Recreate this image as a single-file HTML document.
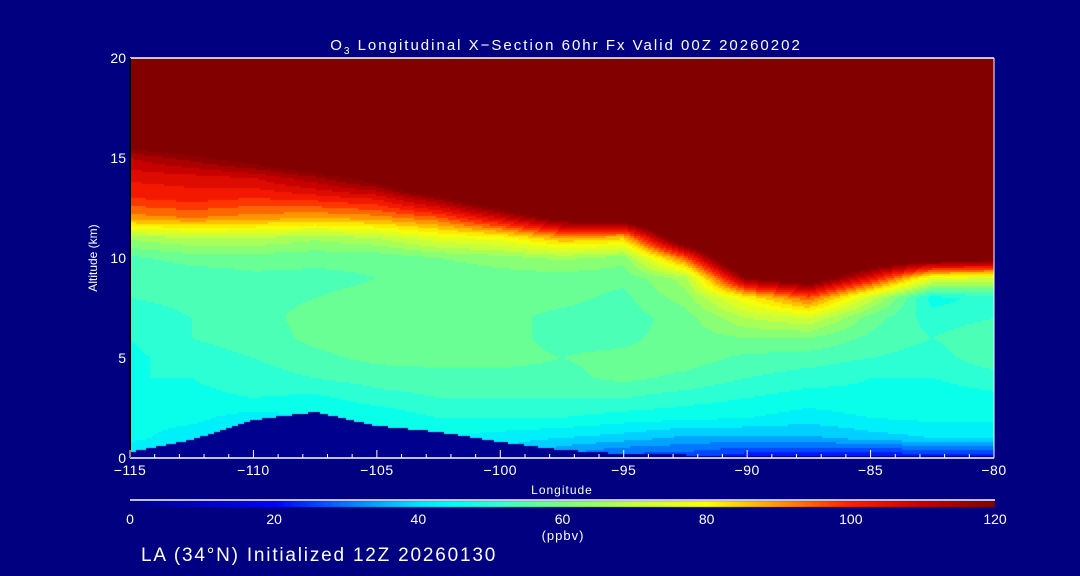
<!DOCTYPE html>
<html><head><meta charset="utf-8">
<style>
html,body{margin:0;padding:0;background:#000080;}
#wrap{position:relative;width:1080px;height:576px;background:#000080;overflow:hidden;font-family:"Liberation Sans",sans-serif;color:#fff;}
canvas{position:absolute;left:0;top:0;}
svg{position:absolute;left:0;top:0;}
</style></head>
<body>
<div id="wrap">
<canvas id="cv" width="1080" height="576"></canvas>
<svg id="ax" width="1080" height="576"></svg>
</div>
<script>
// ---- data ----
const lons = [-115,-112.5,-110,-107.5,-105,-102.5,-100,-97.5,-95,-92.5,-90,-87.5,-85,-82.5,-80];
const alts = [0,1,2,3,4,5,6,7,8,9,10,11,12,13,14,15,16,17,18,19,20];
const terrain = [0.3,0.9,1.9,2.3,1.6,1.3,0.8,0.4,0.2,0.15,0.15,0.15,0.15,0.15,0.15];
// ozone (ppbv) rows = altitude, cols = longitude
const ozone = [
[40,38,38,40,40,40,38,30,25,25,20,20,18,20,20],
[45,42,40,42,42,44,42,40,38,35,35,35,38,40,40],
[45,45,42,44,45,48,48,48,46,45,44,42,44,45,45],
[48,47,48,47,50,52,52,52,52,50,48,46,47,46,47],
[48,48,50,52,54,55,55,55,57,55,52,50,48,48,50],
[47,50,52,55,57,57,57,56,57,58,55,54,52,50,55],
[48,52,54,57,58,58,57,55,55,58,60,60,55,52,55],
[50,52,55,57,58,58,57,55,54,58,68,72,58,50,52],
[52,53,55,56,57,58,57,57,55,62,80,95,70,46,50],
[52,53,55,55,56,57,58,58,57,66,120,130,105,75,72],
[55,58,58,57,57,60,62,65,62,95,150,150,135,130,128],
[65,68,68,65,68,75,78,88,85,135,150,150,150,150,150],
[90,92,90,88,90,95,108,125,130,150,150,150,150,150,150],
[100,102,100,102,105,118,135,150,150,150,150,150,150,150,150],
[105,106,108,115,125,150,150,150,150,150,150,150,150,150,150],
[112,118,125,135,150,150,150,150,150,150,150,150,150,150,150],
[130,135,150,150,150,150,150,150,150,150,150,150,150,150,150],
[150,150,150,150,150,150,150,150,150,150,150,150,150,150,150],
[150,150,150,150,150,150,150,150,150,150,150,150,150,150,150],
[150,150,150,150,150,150,150,150,150,150,150,150,150,150,150],
[150,150,150,150,150,150,150,150,150,150,150,150,150,150,150]];
const xTicks = [-115,-110,-105,-100,-95,-90,-85,-80];
const yTicks = [0,5,10,15,20];
const cbTicks = [0,20,40,60,80,100,120];

// ---- geometry ----
const X0=130,X1=994,Y0=458,Y1=58;
const xs = v => X0+(v-(-115))/35*(X1-X0);
const ys = v => Y0-(v/20)*(Y0-Y1);
const CBX0=130,CBX1=995,CBY=500;
const cbx = v => CBX0+v/120*(CBX1-CBX0);

const stops=[[0,[0,0,128]],[10,[0,0,200]],[20,[0,0,255]],[30,[0,120,255]],[40,[0,230,255]],[45,[0,255,240]],[52,[60,255,200]],[60,[120,255,130]],[70,[200,255,60]],[80,[255,255,0]],[90,[255,150,0]],[100,[255,30,0]],[110,[200,0,0]],[120,[130,0,0]]];
function cmap(v){
  if(v<=0) return stops[0][1];
  if(v>=120) return stops[stops.length-1][1];
  for(let i=1;i<stops.length;i++){ if(v<=stops[i][0]){const a=stops[i-1],b=stops[i];const t=(v-a[0])/(b[0]-a[0]);return a[1].map((c,k)=>Math.round(c+(b[1][k]-c)*t));}}
}
function interp1(arr,xarr,x){
  for(let i=0;i<xarr.length-1;i++){ if(x<=xarr[i+1]){const t=(x-xarr[i])/(xarr[i+1]-xarr[i]);return arr[i]+(arr[i+1]-arr[i])*t;}}
  return arr[arr.length-1];
}
function field(lon,alt){
  let i=0; while(i<lons.length-2 && lon>lons[i+1]) i++;
  let j=0; while(j<alts.length-2 && alt>alts[j+1]) j++;
  const tx=Math.min(1,Math.max(0,(lon-lons[i])/(lons[i+1]-lons[i])));
  const ty=Math.min(1,Math.max(0,(alt-alts[j])/(alts[j+1]-alts[j])));
  const a=ozone[j][i],b=ozone[j][i+1],c=ozone[j+1][i],d=ozone[j+1][i+1];
  return a*(1-tx)*(1-ty)+b*tx*(1-ty)+c*(1-tx)*ty+d*tx*ty;
}
const cv=document.getElementById('cv'),ctx=cv.getContext('2d');
const step=2;
for(let px=X0;px<X1;px+=step){
  const lon=-115+(px+step/2-X0)/(X1-X0)*35;
  const th=interp1(terrain,lons,lon);
  for(let py=Y1;py<Y0;py+=step){
    const alt=(Y0-(py+step/2))/(Y0-Y1)*20;
    let v = alt<th ? 0 : field(lon,alt);
    v=Math.floor(v/4)*4+2;
    const c=cmap(v);
    ctx.fillStyle='rgb('+c[0]+','+c[1]+','+c[2]+')';
    ctx.fillRect(px,py,step,step);
  }
}
for(let px=CBX0;px<CBX1;px++){
  const c=cmap((px-CBX0)/(CBX1-CBX0)*120);
  ctx.fillStyle='rgb('+c[0]+','+c[1]+','+c[2]+')';
  ctx.fillRect(px,CBY+1,1,6);
}

// ---- axes ----
const NS='http://www.w3.org/2000/svg';
const svg=document.getElementById('ax');
function mk(tag,attrs,parent){const e=document.createElementNS(NS,tag);for(const k in attrs)e.setAttribute(k,attrs[k]);(parent||svg).appendChild(e);return e;}
let e;
e=mk('line',{x1:X0,y1:Y0,x2:X1,y2:Y0,stroke:'#fff','stroke-width':1.5});


e=mk('line',{x1:X0,y1:Y1,x2:X1,y2:Y1,stroke:'#fff','stroke-width':1.5});


e=mk('line',{x1:X0,y1:Y1,x2:X0,y2:Y0,stroke:'#000','stroke-width':2});


e=mk('line',{x1:X1,y1:Y1,x2:X1,y2:Y0,stroke:'#fff','stroke-width':1});


for(let v=-115;v<=-80;v++){
  const major=v%5===0;
  e=mk('line',{x1:xs(v),y1:Y0,x2:xs(v),y2:Y0-(major?8:4),stroke:'#fff','stroke-width':1});
  
  
}
xTicks.forEach(v=>{
  e=mk('text',{x:xs(v),y:Y0+17,'text-anchor':'middle',fill:'#fff','font-size':14,'letter-spacing':0.5});
  e.textContent=(v<0?'\u2212'+(-v):v);
  
  
});
yTicks.forEach(v=>{
  e=mk('text',{x:X0-4,y:ys(v)+5,'text-anchor':'end',fill:'#fff','font-size':14});
  e.textContent=v;
  
  
});
cbTicks.forEach(v=>{
  e=mk('text',{x:cbx(v),y:CBY+24,'text-anchor':'middle',fill:'#fff','font-size':14});
  e.textContent=v;
  
  
});
e=mk('line',{x1:CBX0,y1:CBY,x2:CBX1,y2:CBY,stroke:'#fff','stroke-width':1.5});


</script>
<svg width="1080" height="576" style="position:absolute;left:0;top:0">
<text x="566" y="50" text-anchor="middle" fill="#fff" font-size="15" letter-spacing="2" font-family="Liberation Sans,sans-serif">O<tspan font-size="10" dy="4">3</tspan><tspan dy="-4"> Longitudinal X−Section 60hr  Fx Valid 00Z 20260202</tspan></text>
<text x="97" y="258" text-anchor="middle" fill="#fff" font-size="12" font-family="Liberation Sans,sans-serif" transform="rotate(-90 97 258)">Altitude (km)</text>
<text x="562" y="494" text-anchor="middle" fill="#fff" font-size="12" letter-spacing="1" font-family="Liberation Sans,sans-serif">Longitude</text>
<text x="563" y="540" text-anchor="middle" fill="#fff" font-size="13" letter-spacing="1" font-family="Liberation Sans,sans-serif">(ppbv)</text>
<text x="141" y="561" fill="#fff" font-size="19" letter-spacing="1.8" font-family="Liberation Sans,sans-serif">LA (34°N) Initialized 12Z 20260130</text>
</svg>
</body></html>
